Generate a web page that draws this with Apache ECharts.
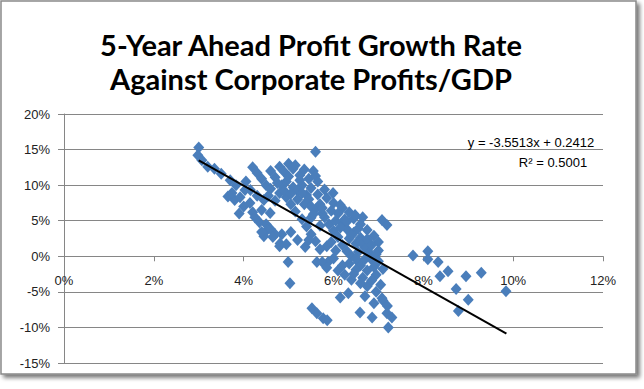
<!DOCTYPE html>
<html>
<head>
<meta charset="utf-8">
<script src="https://cdn.jsdelivr.net/npm/echarts@6/dist/echarts.min.js"></script>
<style>
html,body{margin:0;padding:0;background:#fff;}
#c{width:644px;height:389px;}
</style>
</head>
<body>
<div id="c"></div>
<script>
// ---- data (percent units) ----
const xValues = [3.0,2.98,3.07,3.2,3.35,3.5,3.7,3.83,4.03,3.65,3.8,3.92,4.14,4.0,3.9,4.2,4.25,4.35,4.5,4.52,4.6,4.7,4.45,4.65,4.81,4.8,4.95,4.85,5.05,5.2,5.37,4.99,5.03,5.63,5.88,4.59,4.2,4.3,4.4,4.5,4.6,4.7,4.8,4.9,5.0,5.1,5.15,4.95,5.1,5.2,5.3,5.4,5.2,5.35,5.45,5.6,5.7,5.65,5.45,5.55,5.6,5.65,5.8,5.85,5.6,4.15,4.3,4.45,4.55,4.7,4.8,4.95,5.05,5.15,5.3,5.4,5.5,5.6,5.85,6.05,6.2,6.3,6.4,6.55,6.6,6.75,5.8,5.9,6.0,6.1,6.2,6.3,6.35,6.5,6.45,6.6,6.7,6.8,6.85,6.9,6.95,6.2,6.1,6.35,6.45,6.6,6.75,6.9,7.0,6.65,6.0,5.99,6.15,6.48,5.75,5.85,6.0,6.1,6.25,6.4,6.5,6.65,6.75,6.33,6.15,6.59,6.86,7.08,7.19,7.3,7.22,6.95,7.05,7.1,7.0,5.52,5.63,5.77,5.86,7.08,7.19,7.1,7.77,8.1,8.1,8.33,8.55,8.37,8.95,9.29,8.73,9.0,9.84,8.78,7.2,5.25,5.35,4.85,5.75,6.25,5.5,5.7,6.55,6.7,4.05,4.4,3.74,
  4.6,4.75,4.9,5.0,5.25,5.05,5.3,5.5,5.5,5.55,5.75,5.95,6.05,6.15,6.3,6.4,6.55,6.6,6.75,6.85,6.95,7.0,6.5,6.35,6.2,6.45,6.6,6.85,6.9,6.7,5.7,5.95,5.45,4.4];
const yValues = [15.3,14.2,13.5,12.6,12.3,11.6,10.7,10.0,9.3,8.4,7.9,8.3,7.5,7.0,6.0,6.2,5.5,4.8,4.5,3.7,3.8,3.1,2.8,2.7,1.8,1.4,1.7,3.1,3.4,2.3,1.3,-0.8,-3.8,-0.8,-0.8,6.1,12.5,11.7,10.9,10.0,12.0,11.1,12.6,11.9,13.0,12.3,12.8,10.5,9.7,9.2,10.0,8.6,8.0,7.3,8.0,6.6,7.3,8.7,10.9,12.0,11.3,10.5,9.4,8.2,14.7,9.3,8.5,7.9,8.5,7.8,8.9,8.3,7.3,6.3,5.2,4.2,3.1,2.1,1.4,0.8,1.6,0.7,0.0,-0.8,-1.3,-2.0,5.5,4.5,3.6,2.7,4.6,3.8,2.5,1.8,3.3,2.6,1.2,0.5,-0.5,-1.5,-2.6,6.8,6.0,6.2,5.3,4.5,3.7,2.9,2.0,5.5,7.5,8.9,7.2,5.8,-0.8,-1.6,-0.3,-2.0,-2.6,-3.3,-1.9,-3.0,-4.2,-5.2,-5.8,-7.9,-8.6,-5.9,-8.0,-8.6,-10.0,-5.0,-4.0,-1.8,0.8,-7.3,-8.0,-8.7,-9.0,5.1,4.4,-6.2,0.1,0.7,-0.4,-0.8,-2.1,-2.8,-2.8,-2.3,-4.6,-6.1,-4.9,-7.7,-7.0,11.4,12.2,10.0,6.0,5.2,5.4,4.3,0.6,-0.4,10.5,6.5,8.9,
  9.5,10.3,9.2,11.2,10.7,8.8,8.9,9.6,7.0,5.9,6.8,6.4,5.0,4.0,4.9,3.0,3.9,2.0,2.4,1.6,0.3,-0.7,-0.3,-1.0,-1.3,-2.5,-3.8,-3.4,-6.6,-5.6,1.0,2.0,2.3,3.4];
const trendCoef = [-3.5513, 0.2412];   // slope, intercept (fraction units)
const trendR2 = 0.5001;
const trendRange = [3.0, 9.85];        // x range (%) of fitted line
const xTicks = [0, 2, 4, 6, 8, 10, 12];
const yTicks = [-15, -10, -5, 0, 5, 10, 15, 20];
const titleLines = ['5-Year Ahead Profit Growth Rate', 'Against Corporate Profits/GDP'];

// ---- build ----
const points = xValues.map((x, i) => [x, yValues[i]]);
const trendY = x => trendCoef[0] * x + trendCoef[1] * 100;
const trendPts = trendRange.map(x => [x, trendY(x)]);

const W = 644, H = 389;
const plot = {left: 64, right: 41, top: 114, bottom: 26};
const yMin = yTicks[0], yMax = yTicks[yTicks.length - 1];
// pixel row of y = 0, so the x axis can sit on the zero line (as Excel draws it)
const plotH = H - plot.top - plot.bottom;
const zeroBottom = plot.bottom + plotH * (0 - yMin) / (yMax - yMin);

const chart = echarts.init(document.getElementById('c'), null, {renderer: 'svg'});
const labelFont = {fontFamily: 'Liberation Sans', fontSize: 13, color: '#222'};
const axisGray = '#868686';
chart.setOption({
  animation: false,
  backgroundColor: '#fff',
  graphic: [
    {type: 'rect', z: -10, shape: {x: 1, y: 1, width: 635, height: 373},
     style: {fill: '#fff', stroke: '#8a8a8a', lineWidth: 1.5,
             shadowColor: 'rgba(0,0,0,0.55)', shadowBlur: 4, shadowOffsetX: 3, shadowOffsetY: 3}},
    {type: 'text', x: 311, y: 61, z: 10,
     style: {text: titleLines.join('\n'), align: 'center', verticalAlign: 'middle',
             font: 'bold 29px Lato', lineHeight: 34, fill: '#000'}},
    {type: 'text', x: 531, y: 142, z: 10,
     style: {text: 'y = ' + trendCoef[0] + 'x + ' + trendCoef[1], align: 'center', verticalAlign: 'middle',
             font: '13px "Liberation Sans"', fill: '#000'}},
    {type: 'text', x: 553, y: 162, z: 10,
     style: {text: 'R\u00b2 = ' + trendR2.toFixed(4), align: 'center', verticalAlign: 'middle',
             font: '13px "Liberation Sans"', fill: '#000'}}
  ],
  grid: [
    Object.assign({containLabel: false}, plot),
    {left: plot.left, right: plot.right, top: plot.top, bottom: zeroBottom, containLabel: false}
  ],
  xAxis: [
    {gridIndex: 0, type: 'value', min: xTicks[0], max: xTicks[xTicks.length - 1], interval: 2,
     axisLine: {show: false}, axisTick: {show: false}, axisLabel: {show: false}, splitLine: {show: false}},
    {gridIndex: 1, type: 'value', position: 'bottom', min: xTicks[0], max: xTicks[xTicks.length - 1], interval: 2,
     axisLine: {show: true, onZero: false, lineStyle: {color: axisGray, width: 1}},
     axisTick: {show: true, inside: false, length: 5, lineStyle: {color: axisGray}},
     axisLabel: Object.assign({margin: 18, formatter: v => v + '%'}, labelFont),
     splitLine: {show: false}}
  ],
  yAxis: [
    {gridIndex: 0, type: 'value', min: yMin, max: yMax, interval: 5,
     axisLine: {show: true, onZero: false, lineStyle: {color: axisGray, width: 1}},
     axisTick: {show: true, length: 6, lineStyle: {color: axisGray}},
     axisLabel: Object.assign({margin: 14, formatter: v => v + '%'}, labelFont),
     splitLine: {show: true, lineStyle: {color: axisGray, width: 1}}},
    {gridIndex: 1, type: 'value', min: 0, max: yMax, show: false}
  ],
  series: [
    {type: 'scatter', xAxisIndex: 0, yAxisIndex: 0, data: points, symbol: 'diamond', symbolSize: [11, 12],
     itemStyle: {color: '#4a7ebb', opacity: 1}, z: 2},
    {type: 'line', xAxisIndex: 0, yAxisIndex: 0, data: trendPts, symbol: 'none',
     lineStyle: {color: '#000', width: 2}, z: 3}
  ]
});
</script>
</body>
</html>
